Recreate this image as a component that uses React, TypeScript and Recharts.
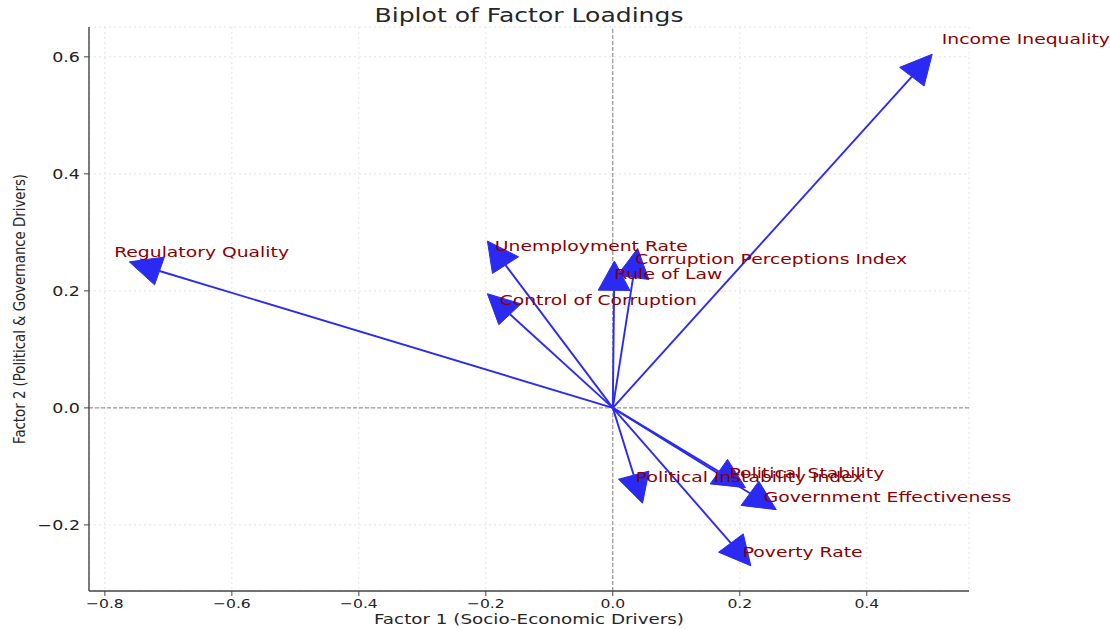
import React from 'react'
import {
  ScatterChart,
  Scatter,
  XAxis,
  YAxis,
  CartesianGrid,
  ReferenceLine,
  Customized,
} from 'recharts'

// factor loadings
const LABELS = [
  'Income Inequality',
  'Regulatory Quality',
  'Unemployment Rate',
  'Corruption Perceptions Index',
  'Rule of Law',
  'Control of Corruption',
  'Political Stability',
  'Political Instability Index',
  'Government Effectiveness',
  'Poverty Rate',
]
const FACTOR1 = [0.471, -0.714, -0.169, 0.032, 0.002, -0.162, 0.167, 0.033, 0.216, 0.186]
const FACTOR2 = [0.566, 0.234, 0.244, 0.223, 0.201, 0.16, -0.109, -0.115, -0.146, -0.231]

const X_TICKS = [-0.8, -0.6, -0.4, -0.2, 0, 0.2, 0.4]
const Y_TICKS = [-0.2, 0, 0.2, 0.4, 0.6]
const X_DOMAIN: [number, number] = [-0.825, 0.561]
const Y_DOMAIN: [number, number] = [-0.313, 0.651]

const TITLE = 'Biplot of Factor Loadings'
const X_LABEL = 'Factor 1 (Socio-Economic Drivers)'
const Y_LABEL = 'Factor 2 (Political & Governance Drivers)'

// layout
const W = 1110
const H = 629
const MARGIN = { top: 27, right: 141, bottom: 0, left: 29 }
const Y_AXIS_W = 60
const X_AXIS_H = 38
const PLOT_W = W - MARGIN.left - MARGIN.right - Y_AXIS_W
const PLOT_H = H - MARGIN.top - MARGIN.bottom - X_AXIS_H
const KX = PLOT_W / (X_DOMAIN[1] - X_DOMAIN[0])
const KY = PLOT_H / (Y_DOMAIN[1] - Y_DOMAIN[0])

const HEAD_W = 0.05
const HEAD_L = 0.05
const ARROW = '#2a2af2'
const LABEL_RED = '#8b0000'
const FONT = '"DejaVu Sans", sans-serif'

const loadings = LABELS.map((name, i) => ({ name, x: FACTOR1[i], y: FACTOR2[i] }))
const labelPoints = loadings.map((d) => ({ name: d.name, x: d.x * 1.1, y: d.y * 1.1 }))

const fmt = (v: number) => (v < 0 ? '\u2212' : '') + Math.abs(v).toFixed(1)

function ArrowShape(props: any) {
  const { cx, cy, payload } = props
  const lx = payload.x
  const ly = payload.y
  const ox = cx - lx * KX
  const oy = cy + ly * KY
  const len = Math.hypot(lx, ly)
  const ux = lx / len
  const uy = ly / len
  const px = (dx: number, dy: number) => `${ox + dx * KX},${oy - dy * KY}`
  const pts = [
    px(lx + HEAD_L * ux, ly + HEAD_L * uy),
    px(lx - (HEAD_W / 2) * uy, ly + (HEAD_W / 2) * ux),
    px(lx + (HEAD_W / 2) * uy, ly - (HEAD_W / 2) * ux),
  ].join(' ')
  return (
    <g>
      <line x1={ox} y1={oy} x2={cx} y2={cy} stroke={ARROW} strokeWidth={1.9} />
      <polygon points={pts} fill={ARROW} stroke={ARROW} strokeWidth={1} />
    </g>
  )
}

function LabelShape(props: any) {
  const { cx, cy, payload } = props
  return (
    <text
      transform={`translate(${cx},${cy}) scale(1.34,1)`}
      fill={LABEL_RED}
      fontSize={14}
      fontFamily={FONT}
    >
      {payload.name}
    </text>
  )
}

function XTick(props: any) {
  const { x, y, payload } = props
  return (
    <text
      transform={`translate(${x},${y + 9.5}) scale(1.2,1)`}
      textAnchor="middle"
      fill="#222"
      fontSize={13}
      fontFamily={FONT}
    >
      {fmt(payload.value)}
    </text>
  )
}

function YTick(props: any) {
  const { x, y, payload } = props
  return (
    <text
      transform={`translate(${x},${y + 5}) scale(1.25,1)`}
      textAnchor="end"
      fill="#222"
      fontSize={14}
      fontFamily={FONT}
    >
      {fmt(payload.value)}
    </text>
  )
}

function Title() {
  return (
    <text
      x={MARGIN.left + Y_AXIS_W + PLOT_W / 2}
      y={22}
      textAnchor="middle"
      fill="#262626"
      fontSize={20}
      fontFamily={FONT}
      textLength={309}
      lengthAdjust="spacingAndGlyphs"
    >
      {TITLE}
    </text>
  )
}

export default function App() {
  return (
    <div style={{ position: 'absolute', left: 0, top: 0, width: W, height: H, background: '#fff' }}>
      <ScatterChart width={W} height={H} margin={MARGIN}>
        <CartesianGrid stroke="#e3e3e3" strokeDasharray="2 3" />
        <XAxis
          type="number"
          dataKey="x"
          domain={X_DOMAIN}
          ticks={X_TICKS}
          height={X_AXIS_H}
          tick={<XTick />}
          tickSize={5}
          tickMargin={2}
          axisLine={{ stroke: '#444', strokeWidth: 1.4 }}
          tickLine={{ stroke: '#444' }}
          label={{
            content: (p: any) => {
              const vb = p.viewBox
              return (
                <text
                  x={vb.x + vb.width / 2}
                  y={624}
                  textAnchor="middle"
                  fill="#262626"
                  fontSize={14}
                  fontFamily={FONT}
                  textLength={310}
                  lengthAdjust="spacingAndGlyphs"
                >
                  {X_LABEL}
                </text>
              )
            },
          }}
        />
        <YAxis
          type="number"
          dataKey="y"
          domain={Y_DOMAIN}
          ticks={Y_TICKS}
          width={Y_AXIS_W}
          tick={<YTick />}
          tickSize={5}
          tickMargin={4}
          axisLine={{ stroke: '#444', strokeWidth: 1.4 }}
          tickLine={{ stroke: '#444' }}
          label={{
            content: (p: any) => {
              const vb = p.viewBox
              const cy = vb.y + vb.height / 2
              return (
                <text
                  transform={`translate(25,${cy}) rotate(-90)`}
                  textAnchor="middle"
                  fill="#262626"
                  fontSize={15}
                  fontFamily={FONT}
                  textLength={270}
                  lengthAdjust="spacingAndGlyphs"
                >
                  {Y_LABEL}
                </text>
              )
            },
          }}
        />
        <ReferenceLine x={0} stroke="#808080" strokeDasharray="4 2" strokeWidth={1} />
        <ReferenceLine y={0} stroke="#808080" strokeDasharray="4 2" strokeWidth={1} />
        <Scatter data={loadings} shape={<ArrowShape />} isAnimationActive={false} />
        <Scatter data={labelPoints} shape={<LabelShape />} isAnimationActive={false} />
        <Customized component={Title} />
      </ScatterChart>
    </div>
  )
}
